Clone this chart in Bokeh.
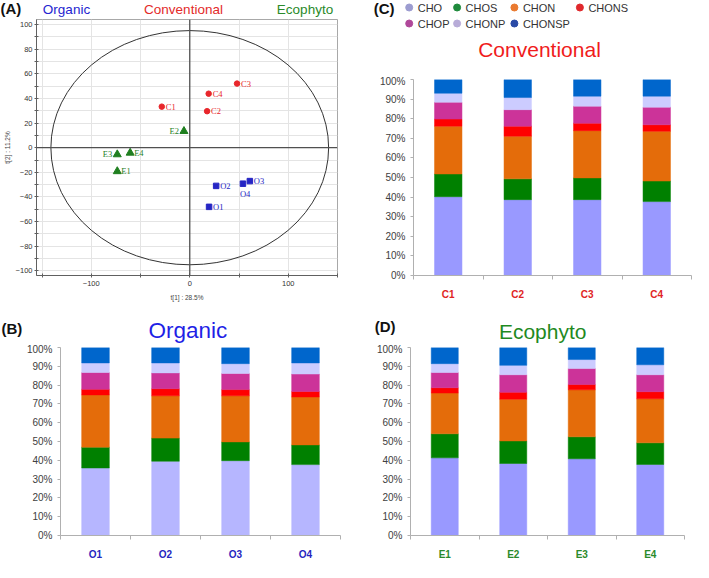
from bokeh.plotting import figure
from bokeh.models import (Range1d, Label, LabelSet, ColumnDataSource, Span, FixedTicker,
                          PrintfTickFormatter)
from bokeh.core.properties import value
from bokeh.layouts import row, column
from bokeh.embed import file_html
from bokeh.resources import INLINE

FONT = "Liberation Sans"

# ---------------- data ----------------
series = ["CHO", "CHOS", "CHON", "CHONS", "CHOP", "CHONP", "CHONSP"]

org_samples = ["O1", "O2", "O3", "O4"]
org_CHO = [35.9, 39.5, 39.8, 37.7]
org_CHOS = [11.1, 12.3, 10.0, 10.5]
org_CHON = [27.8, 22.5, 24.5, 25.5]
org_CHONS = [3.0, 3.8, 3.3, 2.9]
org_CHOP = [8.9, 8.4, 8.6, 9.3]
org_CHONP = [5.1, 5.3, 5.2, 5.9]
org_CHONSP = [8.2, 8.2, 8.6, 8.2]

conv_samples = ["C1", "C2", "C3", "C4"]
conv_CHO = [40.2, 38.7, 38.7, 37.7]
conv_CHOS = [11.6, 10.6, 11.1, 10.5]
conv_CHON = [24.4, 21.8, 24.1, 25.4]
conv_CHONS = [3.6, 5.1, 3.8, 3.3]
conv_CHOP = [8.6, 8.4, 8.7, 9.0]
conv_CHONP = [4.6, 6.2, 5.1, 5.6]
conv_CHONSP = [7.0, 9.2, 8.5, 8.5]

eco_samples = ["E1", "E2", "E3", "E4"]
eco_CHO = [41.3, 38.3, 40.8, 37.8]
eco_CHOS = [12.8, 12.0, 11.7, 11.5]
eco_CHON = [21.7, 22.2, 25.0, 23.4]
eco_CHONS = [2.8, 3.7, 2.8, 3.8]
eco_CHOP = [8.1, 9.3, 8.5, 9.0]
eco_CHONP = [4.7, 5.0, 4.8, 5.3]
eco_CHONSP = [8.6, 9.5, 6.4, 9.2]

# PCA scores t[1], t[2]
conv_t1 = [-28.4, 17.6, 48.0, 19.2]
conv_t2 = [33.3, 29.6, 52.0, 43.8]
eco_t1 = [-73.6, -5.9, -73.6, -60.5]
eco_t2 = [-19.2, 13.4, -5.5, -4.2]
org_t1 = [19.6, 26.8, 61.0, 54.0]
org_t2 = [-48.0, -31.0, -27.1, -29.2]
ellipse_a = 141.0   # Hotelling T2 ellipse semi-axes
ellipse_b = 95.0
t1_label = "t[1] : 28.5%"
t2_label = "t[2] : 11.2%"

# ---------------- styles ----------------
bar_colors = ["#9999FF", "#008000", "#E46C0A", "#FF0000", "#CC3399", "#CCCCFF", "#0066CC"]
bar_colors_org = ["#B6B6FF"] + bar_colors[1:]
legend_colors = ["#9c9cd0", "#1e8a3c", "#ea7a30", "#e0282c", "#b0489a", "#b8acd8", "#2a4aa6"]
RED = "#e8262b"
GREEN = "#1f7f1f"
BLUE = "#2626c4"


def base_fig(w, h, l, r, t, b, xr, yr, axes=True):
    kw = {}
    if not axes:
        kw = dict(x_axis_location=None, y_axis_location=None)
    p = figure(width=w, height=h, x_range=xr, y_range=yr, toolbar_location=None,
               output_backend="svg", title=None, frame_align=False,
               min_border_left=l, min_border_right=r, min_border_top=t, min_border_bottom=b, **kw)
    p.background_fill_color = "white"
    p.border_fill_color = "white"
    return p


def header(w, h):
    # pixel-like coordinates: x to the right, y downward from the top
    p = base_fig(w, h, 0, 0, 0, 0, Range1d(0, w), Range1d(h, 0), axes=False)
    p.grid.visible = False
    p.outline_line_color = None
    return p


def htext(p, x, y, text, size, color, bold=False, align="left"):
    p.add_layout(Label(x=x, y=y, text=text, text_font=FONT, text_font_size=f"{size}px",
                       text_color=color, text_font_style="bold" if bold else "normal",
                       text_align=align, text_baseline="middle"))


# ---------------- panel A: PCA scores ----------------
hA = header(342, 19)
htext(hA, 0, 8, "(A)", 15, "#111111", bold=True)
htext(hA, 66, 9, "Organic", 13.5, "#2424d0", align="center")
htext(hA, 183, 9, "Conventional", 13.5, "#e32a2a", align="center")
htext(hA, 304.5, 9, "Ecophyto", 13.5, "#2a8a2a", align="center")

pA = base_fig(342, 284, 32, 5, 0, 27, Range1d(-155.6, 150), Range1d(-103.7, 104))
pA.outline_line_color = "#a8a8a8"
pA.xgrid.ticker = FixedTicker(ticks=[-150, -100, -50, 50, 100, 150])
pA.ygrid.ticker = FixedTicker(ticks=list(range(-100, 101, 10)))
pA.grid.grid_line_color = "#e4e4e4"
pA.xaxis.ticker = FixedTicker(ticks=[-100, 0, 100], minor_ticks=[-150, -50, 50, 150])
pA.yaxis.ticker = FixedTicker(ticks=list(range(-100, 101, 20)), minor_ticks=list(range(-90, 100, 20)))
pA.yaxis.major_label_overrides = {v: ("\u2212" + str(-v) if v < 0 else str(v)) for v in range(-100, 101, 20)}
pA.xaxis.major_label_overrides = {-100: "\u2212100", 0: "0", 100: "100"}
for ax in (pA.xaxis[0], pA.yaxis[0]):
    ax.axis_line_color = "#606060"
    ax.major_tick_line_color = "#606060"
    ax.minor_tick_line_color = "#606060"
    ax.major_tick_in = 2
    ax.major_tick_out = 2
    ax.minor_tick_in = 2
    ax.minor_tick_out = 2
    ax.major_label_text_font = FONT
    ax.major_label_text_font_size = "7.5px"
    ax.major_label_text_color = "#333333"
    ax.major_label_standoff = 2
    ax.axis_label_text_font = FONT
    ax.axis_label_text_font_size = "6.5px"
    ax.axis_label_text_font_style = "normal"
    ax.axis_label_text_color = "#444444"
    ax.axis_label_standoff = 2
pA.xaxis.major_label_standoff = 3
pA.xaxis.axis_label_standoff = 5
pA.xaxis.axis_label = t1_label
pA.yaxis.axis_label = t2_label
pA.add_layout(Span(location=0, dimension="height", line_color="#505050", line_width=1.3))
pA.add_layout(Span(location=0, dimension="width", line_color="#505050", line_width=1.3))
pA.ellipse(x=[0], y=[0], width=[2 * ellipse_a], height=[2 * ellipse_b],
           fill_color=None, line_color="#333333", line_width=1)

groups = [
    (conv_samples, conv_t1, conv_t2, "circle", 5.5, RED,
     ["left"] * 4, [4, 4, 4, 4], [0, 0, 0, 0]),
    (eco_samples, eco_t1, eco_t2, "triangle", 8, GREEN,
     ["left", "right", "right", "left"], [4, -5, -5, 4], [0, 0, 0, 0]),
    (org_samples, org_t1, org_t2, "square", 5.5, BLUE,
     ["left", "left", "left", "left"], [4, 4, 4, -3], [0, 0, 0, -10]),
]
for names, tx, ty, mk, sz, col, al, dx, dy in groups:
    src = ColumnDataSource(dict(x=tx, y=ty, name=names, align=al, dx=dx, dy=dy))
    pA.scatter(x="x", y="y", source=src, marker=mk, size=sz, color=col)
    pA.add_layout(LabelSet(x="x", y="y", text="name", source=src, x_offset="dx", y_offset="dy",
                           text_align="align", text_baseline="middle", text_font=FONT,
                           text_font_size="8.5px", text_color=col))


# ---------------- bar panels ----------------
def bar_panel(w, h, l, r, t, b, samples, values, colors, lab_color):
    n = len(samples)
    p = base_fig(w, h, l, r, t, b, Range1d(0, n), Range1d(0, 100))
    p.outline_line_color = None
    p.grid.grid_line_color = None
    data = dict(x=[i + 0.5 for i in range(n)])
    for s, v in zip(series, values):
        data[s] = v
    src = ColumnDataSource(data)
    p.vbar_stack(series, x="x", width=0.395, source=src,
                 fill_color=colors, line_color=colors, line_width=0.5)
    p.xaxis.ticker = FixedTicker(ticks=[i + 0.5 for i in range(n)], minor_ticks=list(range(n + 1)))
    p.xaxis.major_label_overrides = {i + 0.5: s for i, s in enumerate(samples)}
    p.xaxis.major_tick_line_color = None
    p.xaxis.minor_tick_in = 0
    p.xaxis.minor_tick_out = 4
    p.xaxis.minor_tick_line_color = "#b0b0b0"
    p.xaxis.axis_line_color = "#b0b0b0"
    p.xaxis.major_label_text_font = FONT
    p.xaxis.major_label_text_font_style = "bold"
    p.xaxis.major_label_text_font_size = "10px"
    p.xaxis.major_label_text_color = lab_color
    p.xaxis.major_label_standoff = 7
    p.yaxis.ticker = FixedTicker(ticks=list(range(0, 101, 10)))
    p.yaxis.formatter = PrintfTickFormatter(format="%d%%")
    p.yaxis.axis_line_color = "#b0b0b0"
    p.yaxis.major_tick_line_color = "#b0b0b0"
    p.yaxis.major_tick_in = 0
    p.yaxis.major_tick_out = 3
    p.yaxis.minor_tick_line_color = None
    p.yaxis.major_label_text_font = FONT
    p.yaxis.major_label_text_font_size = "10px"
    p.yaxis.major_label_text_color = "#404040"
    p.yaxis.major_label_standoff = 5
    return p


hB = header(342, 40)
htext(hB, 1, 24.6, "(B)", 15, "#111111", bold=True)
htext(hB, 187.3, 26.5, "Organic", 22.5, "#1f1fe6", align="center")
pB = bar_panel(342, 219, 60, 2, 4, 19, org_samples,
               [org_CHO, org_CHOS, org_CHON, org_CHONS, org_CHOP, org_CHONP, org_CHONSP],
               bar_colors_org, "#2626c0")

hC = header(351, 75)
htext(hC, 31.2, 8, "(C)", 15, "#111111", bold=True)
htext(hC, 197, 48.6, "Conventional", 21, "#f01c1c", align="center")
# legend of the formula classes, laid out as in the original (two rows)
leg_x = [66.7, 114.6, 171.9, 237.4, 66.7, 114.6, 171.9]
leg_y = [7, 7, 7, 7, 23, 23, 23]
hC.scatter(x=leg_x, y=leg_y, marker="circle", size=7, color=legend_colors)
hC.text(x=[x + 8.5 for x in leg_x], y=leg_y, text=series, text_font=value(FONT),
        text_font_size="11px", text_color="#333333", text_baseline="middle", text_align="left")
pC = bar_panel(351, 228, 71, 2, 4, 28, conv_samples,
               [conv_CHO, conv_CHOS, conv_CHON, conv_CHONS, conv_CHOP, conv_CHONP, conv_CHONSP],
               bar_colors, "#e02424")

hD = header(351, 40)
htext(hD, 32.2, 22.6, "(D)", 15, "#111111", bold=True)
htext(hD, 200.2, 27.5, "Ecophyto", 21, "#1f8a1f", align="center")
pD = bar_panel(351, 219, 68, 9, 4, 19, eco_samples,
               [eco_CHO, eco_CHOS, eco_CHON, eco_CHONS, eco_CHOP, eco_CHONP, eco_CHONSP],
               bar_colors, "#2a8a2a")

layout = row(column(hA, pA, hB, pB), column(hC, pC, hD, pD))
open("out.html", "w").write(file_html(layout, INLINE))
